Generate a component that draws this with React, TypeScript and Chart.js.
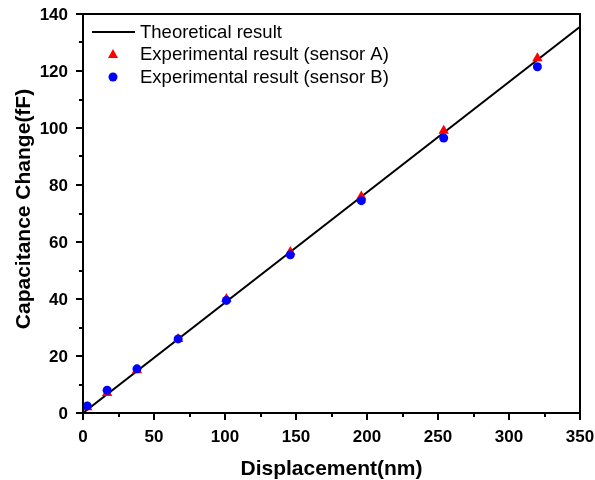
import React, { useEffect, useRef } from 'react';
import { Chart, registerables } from 'chart.js';

Chart.register(...registerables);

const displacement = [3, 17, 38, 67, 101, 146, 196, 254, 320];
const sensorA = [2, 7, 15, 26, 40, 56.5, 76, 99, 124.5];
const sensorB = [2.5, 8, 15.5, 26, 39.5, 55.5, 74.5, 96.5, 121.5];
const theoryX = [0, 350];
const theoryY = [0, 135.5];
const xTickLabels = [0, 50, 100, 150, 200, 250, 300, 350];
const yTickLabels = [0, 20, 40, 60, 80, 100, 120, 140];
const legendLabels = ['Theoretical result', 'Experimental result (sensor A)', 'Experimental result (sensor B)'];
const xTitle = 'Displacement(nm)';
const yTitle = 'Capacitance Change(fF)';

const FONT = '"Liberation Sans", Arial, sans-serif';

const framePlugin = {
  id: 'framePlugin',
  afterDraw(chart: any) {
    const { ctx, chartArea } = chart;
    const { left, right, top, bottom } = chartArea;
    const xs = chart.scales.x;
    const ys = chart.scales.y;
    ctx.save();
    ctx.strokeStyle = '#000';
    ctx.lineWidth = 2;
    ctx.strokeRect(left, top, right - left, bottom - top);
    // tick marks
    ctx.beginPath();
    for (let v = 0; v <= 350; v += 25) {
      const px = Math.round(xs.getPixelForValue(v));
      const len = v % 50 === 0 ? 7 : 4;
      ctx.moveTo(px, bottom);
      ctx.lineTo(px, bottom + len);
    }
    for (let v = 0; v <= 140; v += 10) {
      const py = Math.round(ys.getPixelForValue(v));
      const len = v % 20 === 0 ? 7 : 4;
      ctx.moveTo(left, py);
      ctx.lineTo(left - len, py);
    }
    ctx.stroke();

    // tick labels
    ctx.fillStyle = '#000';
    ctx.font = `bold 17px ${FONT}`;
    ctx.textAlign = 'center';
    ctx.textBaseline = 'alphabetic';
    xTickLabels.forEach((v) => ctx.fillText(String(v), xs.getPixelForValue(v), bottom + 29));
    ctx.textAlign = 'right';
    yTickLabels.forEach((v) => ctx.fillText(String(v), left - 15, ys.getPixelForValue(v) + 6));

    // legend
    const lx = left + 9;
    const rows = [top + 18, top + 40, top + 63];
    ctx.font = `18.5px ${FONT}`;
    ctx.textBaseline = 'middle';
    ctx.textAlign = 'left';
    ctx.lineWidth = 2;
    ctx.beginPath();
    ctx.moveTo(lx, rows[0]);
    ctx.lineTo(lx + 43, rows[0]);
    ctx.stroke();
    const tcx = lx + 21, tcy = rows[1];
    ctx.fillStyle = '#ff0000';
    ctx.beginPath();
    ctx.moveTo(tcx, tcy - 5);
    ctx.lineTo(tcx + 5, tcy + 4);
    ctx.lineTo(tcx - 5, tcy + 4);
    ctx.closePath();
    ctx.fill();
    ctx.fillStyle = '#0000ff';
    ctx.beginPath();
    ctx.arc(tcx, rows[2], 4.5, 0, Math.PI * 2);
    ctx.fill();
    ctx.fillStyle = '#000';
    legendLabels.forEach((t, i) => ctx.fillText(t, lx + 48, rows[i] + 1));

    // axis titles
    ctx.font = `bold 21px ${FONT}`;
    ctx.textAlign = 'center';
    ctx.textBaseline = 'alphabetic';
    ctx.fillText(xTitle, (left + right) / 2, 475);
    ctx.save();
    ctx.translate(30, 209);
    ctx.rotate(-Math.PI / 2);
    ctx.fillText(yTitle, 0, 0);
    ctx.restore();
    ctx.restore();
  },
};

export default function App() {
  const ref = useRef<HTMLCanvasElement>(null);
  useEffect(() => {
    document.body.style.margin = '0';
    document.body.style.background = '#fff';
    const chart = new Chart(ref.current!, {
      type: 'scatter',
      data: {
        datasets: [
          {
            type: 'line',
            label: legendLabels[0],
            data: theoryX.map((x, i) => ({ x, y: theoryY[i] })),
            borderColor: '#000',
            borderWidth: 2,
            pointRadius: 0,
            fill: false,
            order: 3,
          },
          {
            label: legendLabels[1],
            data: displacement.map((x, i) => ({ x, y: sensorA[i] })),
            pointStyle: 'triangle',
            pointRadius: 6,
            backgroundColor: '#ff0000',
            borderWidth: 0,
            order: 2,
          },
          {
            label: legendLabels[2],
            data: displacement.map((x, i) => ({ x, y: sensorB[i] })),
            pointStyle: 'circle',
            pointRadius: 4.5,
            backgroundColor: '#0000ff',
            borderWidth: 0,
            order: 1,
          },
        ],
      },
      options: {
        animation: false,
        responsive: false,
        maintainAspectRatio: false,
        layout: { padding: { left: 0, right: 15, top: 14, bottom: 0 } },
        plugins: { legend: { display: false }, tooltip: { enabled: false } },
        scales: {
          x: {
            type: 'linear',
            min: 0,
            max: 350,
            grid: { display: false },
            border: { display: false },
            ticks: { display: false, stepSize: 50 },
            afterFit: (s: any) => { s.height = 67; },
          },
          y: {
            type: 'linear',
            min: 0,
            max: 140,
            grid: { display: false },
            border: { display: false },
            ticks: { display: false, stepSize: 20 },
            afterFit: (s: any) => { s.width = 83; },
          },
        },
      },
      plugins: [framePlugin],
    });
    return () => chart.destroy();
  }, []);
  return (
    <div style={{ width: 595, height: 480, background: '#fff' }}>
      <canvas ref={ref} width={595} height={480} />
    </div>
  );
}
